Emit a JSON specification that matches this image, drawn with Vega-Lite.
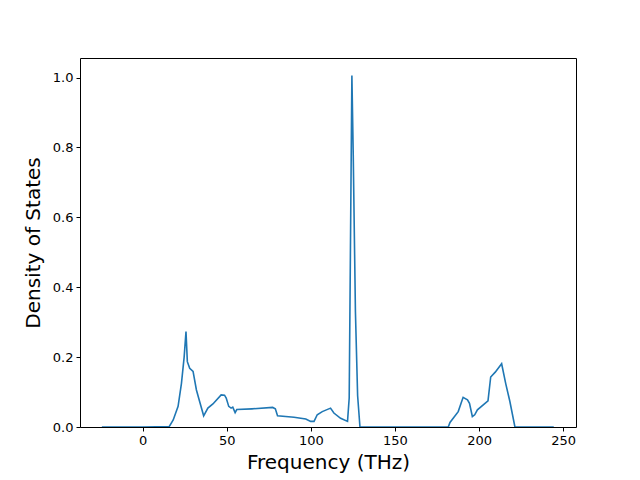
{
  "$schema": "https://vega.github.io/schema/vega-lite/v6.json",
  "width": 496,
  "height": 369,
  "autosize": {"type": "none"},
  "padding": {"left": 80, "top": 58, "right": 64, "bottom": 53},
  "background": "white",
  "config": {
    "view": {"stroke": "black", "strokeWidth": 1},
    "font": "DejaVu Sans",
    "axis": {
      "grid": false,
      "domain": false,
      "tickColor": "black",
      "tickSize": 4,
      "tickWidth": 1,
      "labelColor": "black",
      "labelFont": "DejaVu Sans",
      "labelFontSize": 13,
      "labelPadding": 3,
      "titleFont": "DejaVu Sans",
      "titleFontSize": 20,
      "titleFontWeight": "normal",
      "titleColor": "black"
    }
  },
  "data": {
    "values": [
      {"f": -24.2, "d": 0.0},
      {"f": 0.0, "d": 0.0},
      {"f": 15.8, "d": 0.001},
      {"f": 18.2, "d": 0.02},
      {"f": 21.1, "d": 0.059},
      {"f": 23.1, "d": 0.125},
      {"f": 24.7, "d": 0.2},
      {"f": 25.8, "d": 0.273},
      {"f": 26.6, "d": 0.187},
      {"f": 28.0, "d": 0.168},
      {"f": 30.0, "d": 0.159},
      {"f": 32.0, "d": 0.106},
      {"f": 33.9, "d": 0.073},
      {"f": 36.3, "d": 0.032},
      {"f": 38.8, "d": 0.054},
      {"f": 41.8, "d": 0.066},
      {"f": 46.7, "d": 0.092},
      {"f": 48.7, "d": 0.091},
      {"f": 49.7, "d": 0.083},
      {"f": 51.2, "d": 0.059},
      {"f": 52.6, "d": 0.054},
      {"f": 53.6, "d": 0.057},
      {"f": 55.0, "d": 0.041},
      {"f": 56.0, "d": 0.05},
      {"f": 65.0, "d": 0.052},
      {"f": 77.3, "d": 0.056},
      {"f": 78.9, "d": 0.052},
      {"f": 80.2, "d": 0.032},
      {"f": 90.0, "d": 0.028},
      {"f": 97.0, "d": 0.023},
      {"f": 99.9, "d": 0.016},
      {"f": 101.9, "d": 0.016},
      {"f": 103.8, "d": 0.035},
      {"f": 106.8, "d": 0.044},
      {"f": 111.7, "d": 0.054},
      {"f": 113.7, "d": 0.04},
      {"f": 117.7, "d": 0.025},
      {"f": 121.8, "d": 0.016},
      {"f": 122.8, "d": 0.083},
      {"f": 124.4, "d": 1.006},
      {"f": 125.2, "d": 0.78},
      {"f": 126.5, "d": 0.33},
      {"f": 127.8, "d": 0.09},
      {"f": 129.2, "d": 0.0},
      {"f": 181.7, "d": 0.0},
      {"f": 182.7, "d": 0.013},
      {"f": 187.6, "d": 0.044},
      {"f": 190.5, "d": 0.085},
      {"f": 193.1, "d": 0.078},
      {"f": 194.3, "d": 0.068},
      {"f": 196.0, "d": 0.03},
      {"f": 197.4, "d": 0.035},
      {"f": 199.0, "d": 0.049},
      {"f": 205.3, "d": 0.075},
      {"f": 206.9, "d": 0.143},
      {"f": 209.6, "d": 0.157},
      {"f": 213.4, "d": 0.181},
      {"f": 215.8, "d": 0.125},
      {"f": 218.3, "d": 0.073},
      {"f": 221.3, "d": 0.0},
      {"f": 244.4, "d": 0.0}
    ]
  },
  "mark": {"type": "line", "color": "#1f77b4", "strokeWidth": 1.6, "clip": true},
  "encoding": {
    "x": {
      "field": "f",
      "type": "quantitative",
      "title": "Frequency (THz)",
      "scale": {"domain": [-37.2, 257.6], "nice": false, "zero": false},
      "axis": {"values": [0, 50, 100, 150, 200, 250], "titlePadding": 5}
    },
    "y": {
      "field": "d",
      "type": "quantitative",
      "title": "Density of States",
      "scale": {"domain": [0, 1.056], "nice": false},
      "axis": {"values": [0, 0.2, 0.4, 0.6, 0.8, 1.0], "format": ".1f", "titlePadding": 9}
    }
  }
}
